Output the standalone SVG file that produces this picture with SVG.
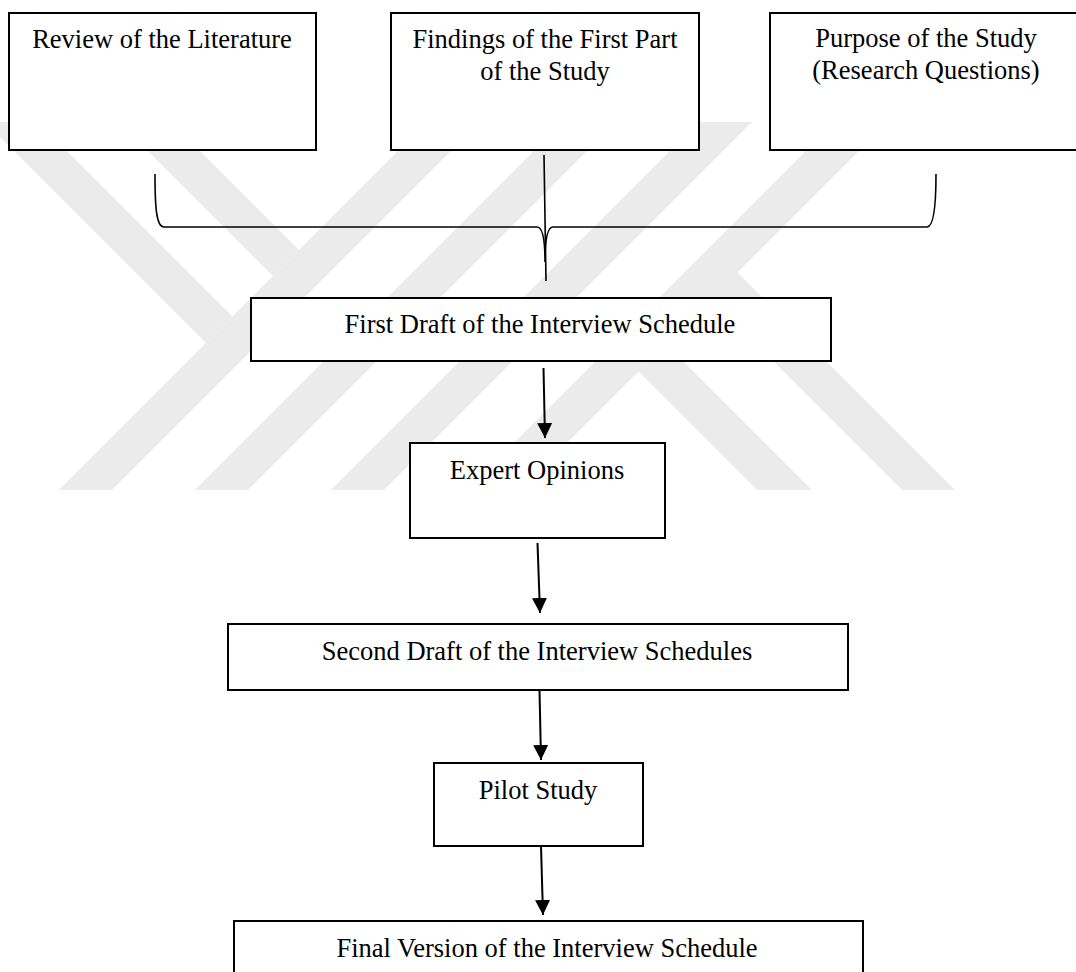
<svg xmlns="http://www.w3.org/2000/svg" width="1076" height="972" viewBox="0 0 1076 972">
<style>
.wm{fill:#ebebeb;stroke:none}
.box{fill:#ffffff;stroke:#000000;stroke-width:2}
.lbl{font-family:"Liberation Serif","Times New Roman",serif;font-size:26.5px;fill:#000000;text-anchor:middle}
.conn{fill:none;stroke:#000000;stroke-width:2}
.brace{fill:none;stroke:#000000;stroke-width:1.6}
</style>
<defs>
<marker id="ah" markerUnits="userSpaceOnUse" markerWidth="15" markerHeight="15" refX="15" refY="7.5" orient="auto">
<path d="M0,0 L15,7.5 L0,15 Z" fill="#000000"/>
</marker>
</defs>
<rect x="0" y="0" width="1076" height="972" fill="#ffffff"/>
<g id="watermark">
<polygon class="wm" points="427,122 480,122 112,490 59,490"/>
<polygon class="wm" points="563,122 616,122 248,490 195,490"/>
<polygon class="wm" points="699,122 752,122 384,490 331,490"/>
<polygon class="wm" points="835,122 888,122 520,490 467,490"/>
<polygon class="wm" points="-15,122 38,122 232.5,316.5 206,343"/>
<polygon class="wm" points="119,122 171,122 299,250 273,276"/>
<polygon class="wm" points="638.5,371.5 666,344 812,490 757,490"/>
<polygon class="wm" points="711,299 737.5,272.5 955,490 902,490"/>
</g>
<g id="connectors">
<path class="brace" d="M155,174 C155,205 156,227 164,227 L537,227 C543,227 545,240 545,262 C545,240 547,227 553,227 L927,227 C934,227 936,205 936,174"/>
<path class="brace" d="M544,155 L546,281"/>
<line class="conn" x1="543.5" y1="368" x2="545" y2="438" marker-end="url(#ah)"/>
<line class="conn" x1="537.5" y1="543" x2="540" y2="613" marker-end="url(#ah)"/>
<line class="conn" x1="539.5" y1="690" x2="541" y2="760" marker-end="url(#ah)"/>
<line class="conn" x1="541" y1="846" x2="543" y2="915" marker-end="url(#ah)"/>
</g>
<g id="review">
<rect class="box" x="9" y="13" width="307" height="137"/>
<text class="lbl" x="162" y="48">Review of the Literature</text>
</g>
<g id="findings">
<rect class="box" x="391" y="13" width="308" height="137"/>
<text class="lbl" x="545" y="48">Findings of the First Part</text>
<text class="lbl" x="545" y="80">of the Study</text>
</g>
<g id="purpose">
<rect class="box" x="770" y="13" width="312" height="137"/>
<text class="lbl" x="926" y="47">Purpose of the Study</text>
<text class="lbl" x="926" y="79">(Research Questions)</text>
</g>
<g id="first-draft">
<rect class="box" x="251" y="298" width="580" height="63"/>
<text class="lbl" x="540" y="333">First Draft of the Interview Schedule</text>
</g>
<g id="expert">
<rect class="box" x="410" y="443" width="255" height="95"/>
<text class="lbl" x="537" y="479">Expert Opinions</text>
</g>
<g id="second-draft">
<rect class="box" x="228" y="624" width="620" height="66"/>
<text class="lbl" x="537" y="660">Second Draft of the Interview Schedules</text>
</g>
<g id="pilot">
<rect class="box" x="434" y="763" width="209" height="83"/>
<text class="lbl" x="538" y="799">Pilot Study</text>
</g>
<g id="final">
<rect class="box" x="234" y="921" width="629" height="80"/>
<text class="lbl" x="547" y="957">Final Version of the Interview Schedule</text>
</g>
</svg>
